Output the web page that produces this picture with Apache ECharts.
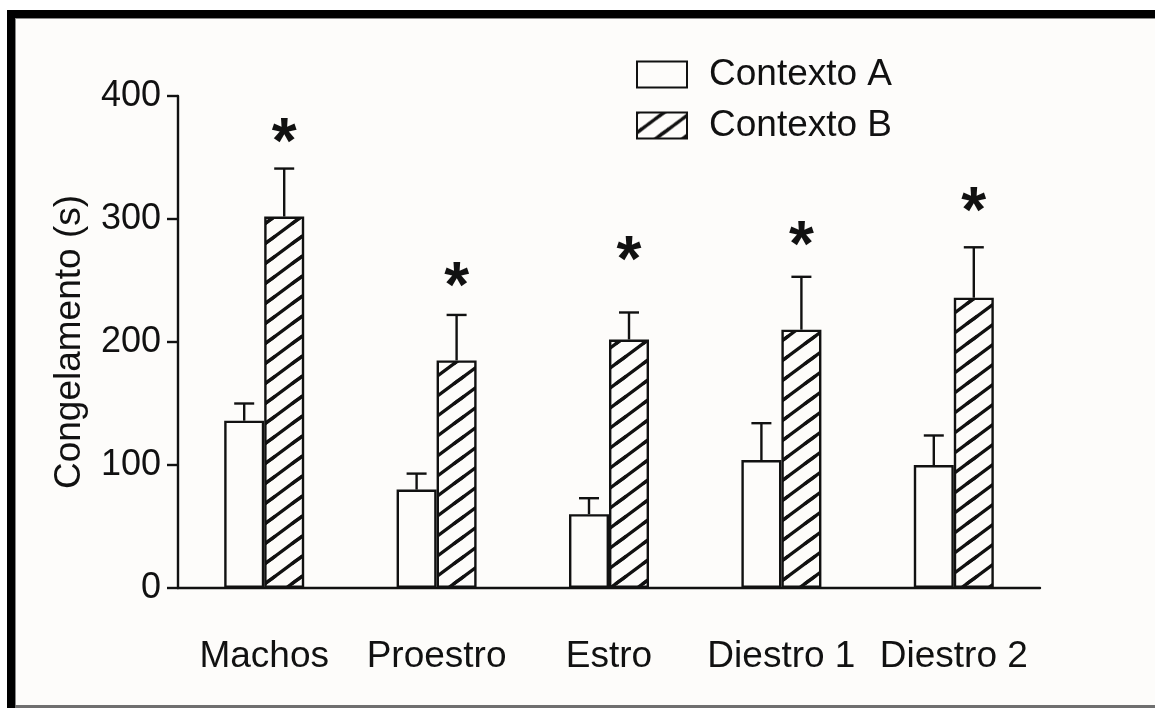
<!DOCTYPE html>
<html>
<head>
<meta charset="utf-8">
<script src="https://cdn.jsdelivr.net/npm/echarts@6/dist/echarts.min.js"></script>
<style>
  html, body { margin: 0; padding: 0; background: #ffffff; }
  #chart { width: 1155px; height: 708px; }
</style>
</head>
<body>
<div id="chart"></div>
<script>
// Freezing time (s) per group, context A vs context B (mean and SEM)
const categories = ['Machos', 'Proestro', 'Estro', 'Diestro 1', 'Diestro 2'];
const contextoA = [136, 80, 60, 104, 100];
const semA = [14, 13, 13, 30, 24];
const contextoB = [302, 185, 202, 210, 236];
const semB = [39, 37, 22, 43, 41];
// Height (in seconds) at which each significance asterisk sits
const starLevel = [369, 252, 273, 285, 313];
const yTicks = [0, 100, 200, 300, 400];

const INK = '#111111';
const FONT = '"Liberation Sans", Arial, sans-serif';
const BAR_W = 40;

// Diagonal hatch tile for context B
function hatchTile() {
  const w = 27, h = 20;
  const c = document.createElement('canvas');
  c.width = w; c.height = h;
  const g = c.getContext('2d');
  g.fillStyle = '#fdfcfa';
  g.fillRect(0, 0, w, h);
  g.strokeStyle = INK;
  g.lineWidth = 3.4;
  g.lineCap = 'butt';
  const shifts = [[0, 0], [w, 0], [-w, 0], [0, h], [0, -h], [w, -h], [-w, h]];
  shifts.forEach(([dx, dy]) => {
    g.beginPath();
    g.moveTo(dx - w * 0.2, dy + h + h * 0.2);
    g.lineTo(dx + w + w * 0.2, dy - h * 0.2);
    g.stroke();
  });
  return c;
}
const hatch = { image: hatchTile(), repeat: 'repeat' };

// Upward SEM whiskers drawn at the centre of each bar
function errorSeries(name, means, sems, side) {
  return {
    type: 'custom',
    name: name + ' SEM',
    silent: true,
    z: 5,
    data: means.map((m, i) => [i, m, m + sems[i]]),
    renderItem: function (params, api) {
      const base = api.coord([api.value(0), api.value(1)]);
      const top = api.coord([api.value(0), api.value(2)]);
      const x = base[0] + side * BAR_W / 2;
      const style = { stroke: INK, lineWidth: 2.4 };
      return {
        type: 'group',
        children: [
          { type: 'line', shape: { x1: x, y1: base[1], x2: x, y2: top[1] }, style: style },
          { type: 'line', shape: { x1: x - 10, y1: top[1], x2: x + 10, y2: top[1] }, style: style }
        ]
      };
    }
  };
}

const chart = echarts.init(document.getElementById('chart'), null, { renderer: 'canvas' });

chart.setOption({
  backgroundColor: '#ffffff',
  animation: false,
  textStyle: { fontFamily: FONT, color: INK },
  graphic: [
    { type: 'rect', z: -10, shape: { x: 7, y: 10, width: 1148, height: 698 }, style: { fill: '#fdfcfa' } },
    { type: 'rect', z: 100, shape: { x: 7, y: 10, width: 8, height: 698 }, style: { fill: '#000' } },
    { type: 'rect', z: 100, shape: { x: 7, y: 10, width: 1148, height: 8 }, style: { fill: '#000' } },
    { type: 'line', z: 100, shape: { x1: 15.5, y1: 18, x2: 15.5, y2: 708 }, style: { stroke: '#8a8a8a', lineWidth: 1 } },
    { type: 'line', z: 100, shape: { x1: 15, y1: 18.5, x2: 1155, y2: 18.5 }, style: { stroke: '#8a8a8a', lineWidth: 1 } },
    { type: 'rect', z: 100, shape: { x: 15, y: 705, width: 1140, height: 3 }, style: { fill: '#6f6f6f' } }
  ],
  legend: {
    orient: 'vertical',
    left: 631,
    top: 51,
    itemWidth: 50,
    itemHeight: 26,
    itemGap: 14,
    icon: 'rect',
    selectedMode: false,
    data: ['Contexto A', 'Contexto B'],
    textStyle: { fontFamily: FONT, fontSize: 37, color: INK, padding: [0, 0, 0, 17] }
  },
  grid: { left: 178, right: 115, top: 96, bottom: 120 },
  xAxis: {
    type: 'category',
    data: categories,
    boundaryGap: true,
    axisLine: { lineStyle: { color: INK, width: 2.4 } },
    axisTick: { interval: 0, alignWithLabel: true, length: 13, lineStyle: { color: INK, width: 2.4 } },
    axisLabel: { interval: 0, margin: 50, fontFamily: FONT, fontSize: 37, color: INK },
    splitLine: { show: false }
  },
  yAxis: {
    type: 'value',
    min: 0,
    max: 400,
    interval: 100,
    name: 'Congelamento (s)',
    nameLocation: 'middle',
    nameGap: 90,
    nameTextStyle: { fontFamily: FONT, fontSize: 37, color: INK },
    axisLine: { show: true, lineStyle: { color: INK, width: 2.4 } },
    axisTick: { show: true, length: 11, lineStyle: { color: INK, width: 2.4 } },
    axisLabel: {
      margin: 17, fontFamily: FONT, fontSize: 36, color: INK,
      formatter: v => (yTicks.indexOf(v) >= 0 ? String(v) : '')
    },
    splitLine: { show: false }
  },
  series: [
    {
      name: 'Contexto A',
      type: 'bar',
      data: contextoA,
      barWidth: BAR_W,
      barGap: '0%',
      itemStyle: { color: '#fdfcfa', borderColor: INK, borderWidth: 2.4 }
    },
    {
      name: 'Contexto B',
      type: 'bar',
      data: contextoB,
      barWidth: BAR_W,
      barGap: '0%',
      itemStyle: { color: hatch, borderColor: INK, borderWidth: 2.4 }
    },
    errorSeries('Contexto A', contextoA, semA, -1),
    errorSeries('Contexto B', contextoB, semB, 1),
    {
      type: 'custom',
      name: 'significance',
      silent: true,
      z: 6,
      data: starLevel.map((v, i) => [i, v]),
      renderItem: function (params, api) {
        const p = api.coord([api.value(0), api.value(1)]);
        return {
          type: 'text',
          style: {
            text: '*',
            x: p[0] + BAR_W / 2,
            y: p[1] + 11,
            align: 'center',
            verticalAlign: 'middle',
            font: 'bold 64px ' + FONT,
            fill: INK
          }
        };
      }
    }
  ]
});
</script>
</body>
</html>
